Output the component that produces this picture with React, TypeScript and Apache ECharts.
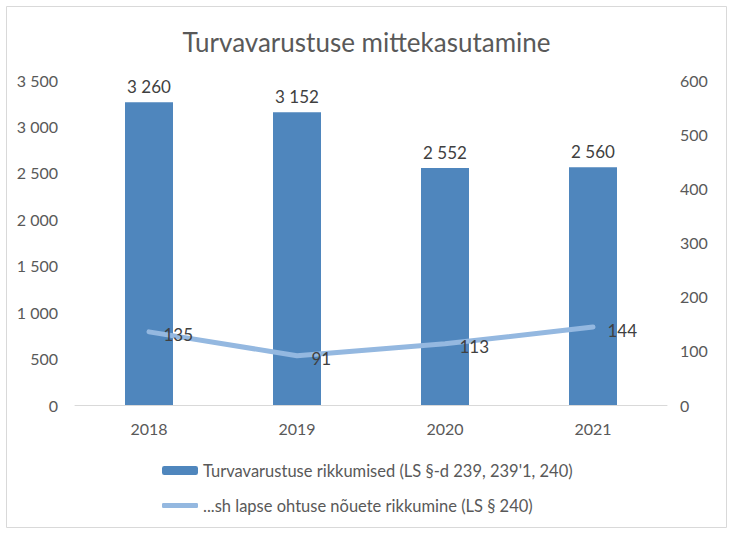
import * as echarts from "echarts";
import { useEffect, useRef } from "react";

const years = ["2018", "2019", "2020", "2021"];
const violations = [3260, 3152, 2552, 2560];
const childViolations = [135, 91, 113, 144];
const barName = "Turvavarustuse rikkumised (LS §-d 239, 239'1, 240)";
const lineName = "...sh lapse ohtuse nõuete rikkumine (LS § 240)";

const FONT = "Lato";
const fmt = (v: number) => String(v).replace(/\B(?=(\d{3})+(?!\d))/g, " ");

const App = () => {
  const chartRef = useRef<HTMLDivElement>(null);

  useEffect(() => {
    document.body.style.margin = "0";
    const chart = echarts.init(chartRef.current, null, { renderer: "svg" });
    chart.setOption({
      animation: false,
      textStyle: { fontFamily: FONT },
      graphic: [
        {
          type: "rect",
          shape: { x: 6.5, y: 6.5, width: 720, height: 521 },
          style: { fill: "none", stroke: "#d9d9d9", lineWidth: 1 },
        },
      ],
      title: {
        text: "Turvavarustuse mittekasutamine",
        left: "center",
        top: 24,
        textStyle: { fontFamily: FONT, fontSize: 26, fontWeight: "normal", color: "#595959" },
      },
      grid: { left: 75, right: 66, top: 80, bottom: 129 },
      legend: [
        {
          data: [barName],
          left: 157,
          top: 457,
          itemWidth: 36,
          itemHeight: 9,
          itemGap: 8,
          textStyle: { fontFamily: FONT, fontSize: 16.5, color: "#595959" },
        },
        {
          data: [{ name: lineName, icon: "roundRect" }],
          left: 157,
          top: 492,
          itemWidth: 36,
          itemHeight: 5,
          textStyle: { fontFamily: FONT, fontSize: 16.5, color: "#595959" },
        },
      ],
      xAxis: {
        type: "category",
        data: years,
        axisLine: { lineStyle: { color: "#d9d9d9", width: 1 } },
        axisTick: { show: false },
        axisLabel: { fontFamily: FONT, fontSize: 16, color: "#595959", margin: 15 },
      },
      yAxis: [
        {
          type: "value",
          min: 0,
          max: 3500,
          interval: 500,
          splitLine: { show: false },
          axisLabel: { fontFamily: FONT, fontSize: 16, color: "#595959", margin: 17, formatter: fmt },
        },
        {
          type: "value",
          min: 0,
          max: 600,
          interval: 100,
          splitLine: { show: false },
          axisLabel: { fontFamily: FONT, fontSize: 16, color: "#595959", margin: 13 },
        },
      ],
      series: [
        {
          name: barName,
          type: "bar",
          data: violations,
          barWidth: 48,
          itemStyle: { color: "#4f86bd" },
          label: {
            show: true,
            position: "top",
            distance: 7,
            fontFamily: FONT,
            fontSize: 17,
            color: "#404040",
            formatter: (p: any) => fmt(p.value),
          },
        },
        {
          name: lineName,
          type: "line",
          yAxisIndex: 1,
          data: childViolations,
          symbol: "circle",
          symbolSize: 1,
          showSymbol: true,
          lineStyle: { color: "#94b8e0", width: 5, cap: "round" },
          itemStyle: { color: "#94b8e0" },
          label: {
            show: true,
            position: "right",
            distance: 14,
            offset: [0, 3],
            fontFamily: FONT,
            fontSize: 17,
            color: "#404040",
          },
        },
      ],
    });
    return () => {
      chart.dispose();
    };
  }, []);

  return <div ref={chartRef} style={{ width: 733, height: 534 }} />;
};

export default App;
